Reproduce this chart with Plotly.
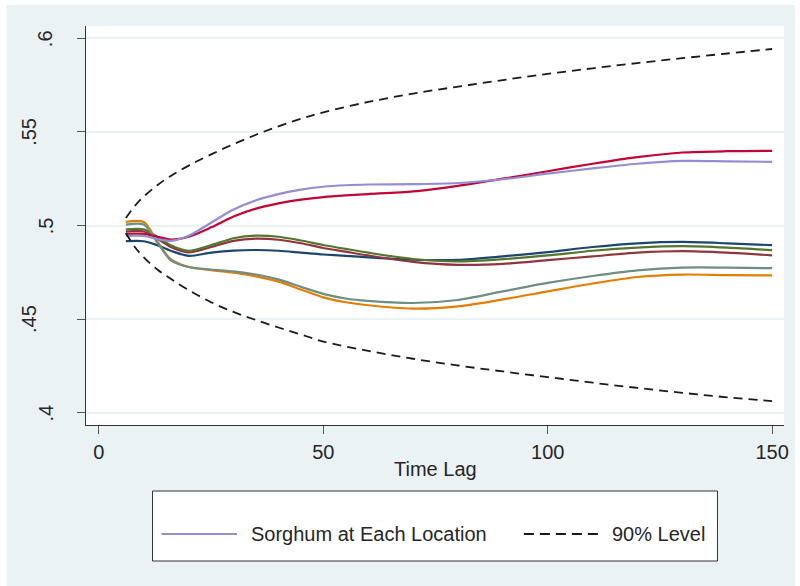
import plotly.graph_objects as go

# Time lags at which the estimates are plotted
lag = [6, 10, 13, 16, 20, 25, 30, 35, 40, 45, 50, 55, 60, 70, 80, 90, 100, 110, 120, 130, 140, 150]

# Estimates for each location
loc_navy = [0.4916, 0.4916, 0.4895, 0.4865, 0.4838, 0.4855, 0.4866, 0.4869, 0.4865, 0.4855, 0.4845,
            0.4838, 0.4830, 0.4817, 0.4816, 0.4835, 0.4858, 0.4885, 0.4905, 0.4912, 0.4905, 0.4895]
loc_maroon = [0.4968, 0.4968, 0.4930, 0.4885, 0.4856, 0.4885, 0.4918, 0.4930, 0.4924, 0.4905, 0.4880,
              0.4860, 0.4840, 0.4806, 0.4790, 0.4795, 0.4815, 0.4835, 0.4855, 0.4863, 0.4855, 0.4840]
loc_green = [0.4979, 0.4979, 0.4940, 0.4895, 0.4865, 0.4895, 0.4932, 0.4946, 0.4940, 0.4920, 0.4896,
             0.4875, 0.4855, 0.4821, 0.4808, 0.4820, 0.4840, 0.4865, 0.4882, 0.4890, 0.4882, 0.4868]
loc_orange = [0.5019, 0.5019, 0.4915, 0.4820, 0.4778, 0.4762, 0.4748, 0.4728, 0.4700, 0.4658, 0.4616,
              0.4590, 0.4574, 0.4556, 0.4568, 0.4605, 0.4648, 0.4690, 0.4725, 0.4738, 0.4735, 0.4733]
loc_teal = [0.5005, 0.5005, 0.4910, 0.4815, 0.4778, 0.4765, 0.4755, 0.4738, 0.4712, 0.4672, 0.4635,
            0.4610, 0.4597, 0.4586, 0.4602, 0.4648, 0.4693, 0.4730, 0.4760, 0.4775, 0.4775, 0.4772]
loc_red = [0.4955, 0.4955, 0.4940, 0.4925, 0.4940, 0.4990, 0.5048, 0.5090, 0.5118, 0.5138, 0.5152,
           0.5161, 0.5168, 0.5182, 0.5212, 0.5250, 0.5290, 0.5330, 0.5365, 0.5390, 0.5397, 0.5399]
loc_lavender = [0.4945, 0.4945, 0.4928, 0.4918, 0.4945, 0.5015, 0.5085, 0.5135, 0.5168, 0.5192, 0.5207,
                0.5215, 0.5219, 0.5221, 0.5227, 0.5247, 0.5277, 0.5305, 0.5330, 0.5345, 0.5343, 0.5340]

# 90% band
band_lag = [6, 8, 10, 13, 16, 20, 25, 30, 35, 40, 45, 50, 60, 70, 80, 90, 100, 110, 120, 130, 140, 150]
band_upper = [0.5040, 0.5105, 0.5155, 0.5215, 0.5265, 0.5320, 0.5380, 0.5435, 0.5485, 0.5530, 0.5570,
              0.5605, 0.5660, 0.5705, 0.5742, 0.5777, 0.5810, 0.5840, 0.5868, 0.5894, 0.5919, 0.5943]
band_lower = [0.4960, 0.4885, 0.4830, 0.4765, 0.4715, 0.4655, 0.4590, 0.4538, 0.4495, 0.4455, 0.4418,
              0.4380, 0.4330, 0.4288, 0.4252, 0.4220, 0.4190, 0.4160, 0.4132, 0.4106, 0.4082, 0.4062]

y_ticks = [0.4, 0.45, 0.5, 0.55, 0.6]
y_tick_text = [".4", ".45", ".5", ".55", ".6"]
x_ticks = [0, 50, 100, 150]

legend_series = "Sorghum at Each Location"
legend_band = "90% Level"
x_title = "Time Lag"

series = [
    (loc_navy, "#1a476f"),
    (loc_maroon, "#90353b"),
    (loc_green, "#55752f"),
    (loc_orange, "#e37e00"),
    (loc_teal, "#6e8e84"),
    (loc_red, "#c10534"),
    (loc_lavender, "#938dd2"),
]

FONT = "Liberation Sans, Arial, sans-serif"
TXT = "#262626"
BG = "#eaf2f3"

fig = go.Figure()
for vals, col in series:
    fig.add_trace(go.Scatter(x=lag, y=vals, mode="lines",
                             line=dict(color=col, width=2.2, shape="spline", smoothing=0.8),
                             showlegend=False, hoverinfo="skip"))
for vals in (band_upper, band_lower):
    fig.add_trace(go.Scatter(x=band_lag, y=vals, mode="lines",
                             line=dict(color="#1a1a1a", width=1.8, dash="9px,6px",
                                       shape="spline", smoothing=1.0),
                             showlegend=False, hoverinfo="skip"))

# plot area: 86..789 px horizontally, 26..425 px vertically
L, R, T, B = 86, 11, 26, 161
W, H = 800 - L - R, 586 - T - B


def px_x(p):
    return (p - L) / W


def px_y(p):
    return (T + H - p) / H


shapes = [
    # outer light background panel
    dict(type="rect", xref="paper", yref="paper", layer="below",
         x0=px_x(6), x1=px_x(800), y0=px_y(586), y1=px_y(5),
         fillcolor=BG, line=dict(width=0)),
    dict(type="rect", xref="paper", yref="paper", layer="below",
         x0=0, x1=1, y0=0, y1=1, fillcolor="white", line=dict(width=0)),
    # legend box and keys
    dict(type="rect", xref="paper", yref="paper",
         x0=px_x(153), x1=px_x(722), y0=px_y(561), y1=px_y(491),
         fillcolor="white", line=dict(color="#333333", width=1)),
    dict(type="line", xref="paper", yref="paper",
         x0=px_x(162), x1=px_x(238), y0=px_y(534), y1=px_y(534),
         line=dict(color="#938dd2", width=2.2)),
    dict(type="line", xref="paper", yref="paper",
         x0=px_x(527), x1=px_x(603), y0=px_y(534), y1=px_y(534),
         line=dict(color="#1a1a1a", width=1.8, dash="10px,6px")),
]

annotations = [
    dict(xref="paper", yref="paper", x=px_x(250), y=px_y(534), xanchor="left", yanchor="middle",
         text=legend_series, showarrow=False, font=dict(family=FONT, size=20, color=TXT)),
    dict(xref="paper", yref="paper", x=px_x(614), y=px_y(534), xanchor="left", yanchor="middle",
         text=legend_band, showarrow=False, font=dict(family=FONT, size=20, color=TXT)),
    dict(xref="paper", yref="paper", x=0.5, y=px_y(469), xanchor="center", yanchor="middle",
         text=x_title, showarrow=False, font=dict(family=FONT, size=20, color=TXT)),
]
for v, t in zip(y_ticks, y_tick_text):
    xc = 45.5 if len(t) == 2 else 28.5
    annotations.append(dict(xref="paper", yref="y", x=px_x(xc), y=v, xanchor="center",
                            yanchor="middle", text=t, textangle=-90, showarrow=False,
                            font=dict(family=FONT, size=20, color=TXT)))

fig.update_layout(
    width=800, height=586,
    margin=dict(l=L, r=R, t=T, b=B, pad=0),
    paper_bgcolor="white", plot_bgcolor="rgba(0,0,0,0)",
    font=dict(family=FONT, size=20, color=TXT),
    shapes=shapes, annotations=annotations, showlegend=False,
    xaxis=dict(range=[-2.88, 152.65], tickvals=x_ticks, ticks="outside", ticklen=8,
               tickcolor="#555555", tickwidth=1, showgrid=False, zeroline=False,
               showline=True, linecolor="#333333", linewidth=1,
               tickfont=dict(family=FONT, size=20, color=TXT), ticklabelstandoff=1),
    yaxis=dict(range=[0.3934, 0.6066], tickvals=y_ticks, showticklabels=False,
               ticks="outside", ticklen=8, tickcolor="#555555", tickwidth=1,
               showgrid=True, gridcolor=BG, gridwidth=1.5, zeroline=False,
               showline=True, linecolor="#333333", linewidth=1),
)

fig.write_html("out.html", config={"displayModeBar": False})
